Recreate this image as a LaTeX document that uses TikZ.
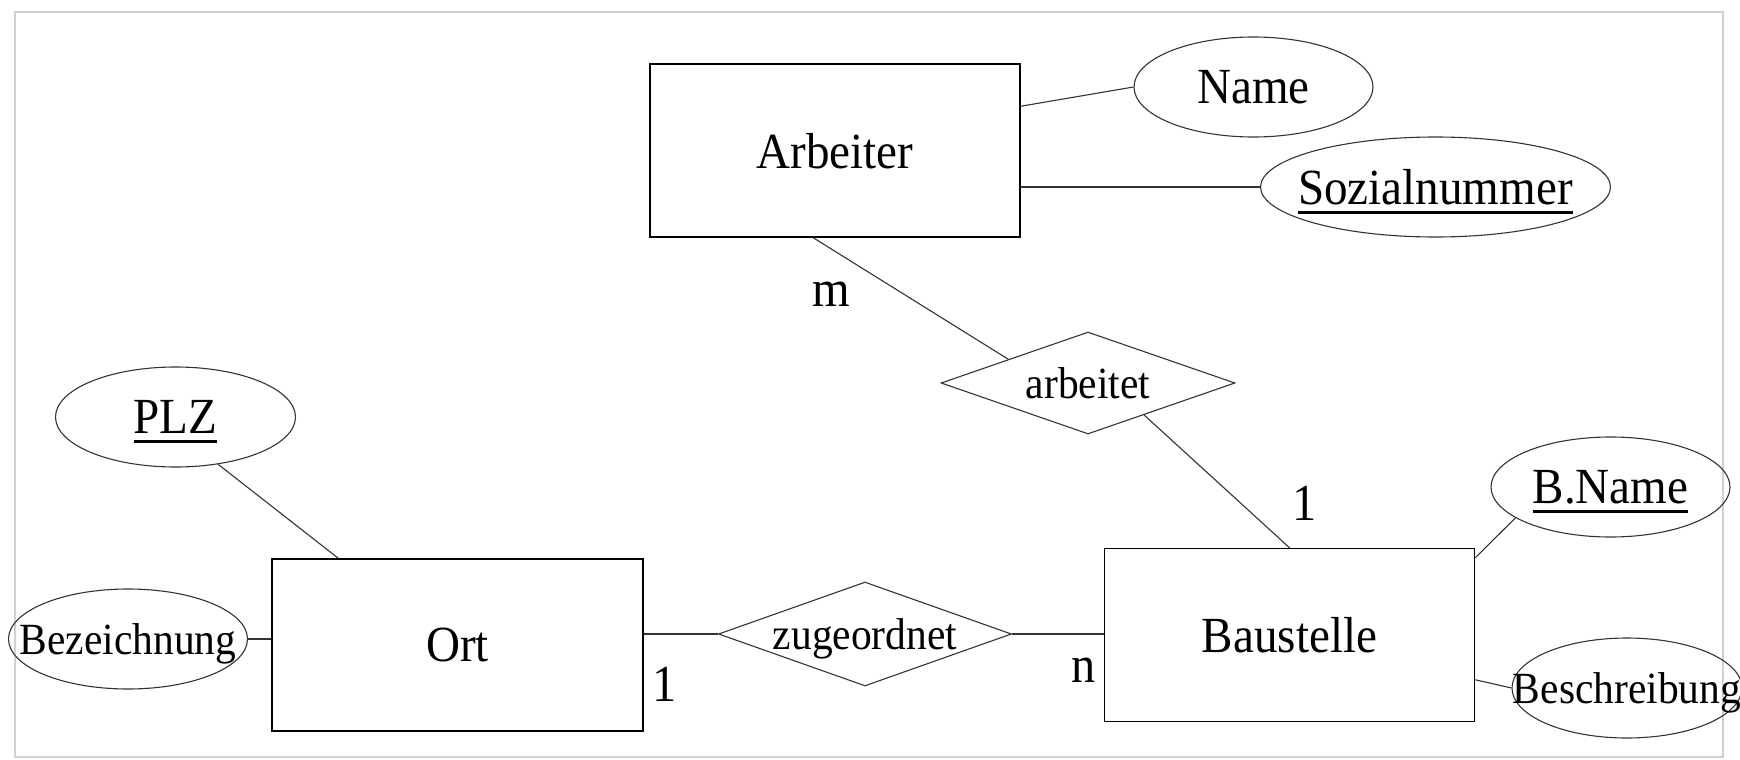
\documentclass[tikz,border=0pt]{standalone}
\usepackage{fontspec}
\setmainfont{Liberation Serif}[FakeStretch=0.93]
\usetikzlibrary{shapes}
\usetikzlibrary{calc}

% key attribute, underlined
\newcommand{\keyattr}[1]{\setbox0=\hbox{#1}\rlap{\rule[-4.5pt]{\wd0}{1.3pt}}\box0}

\begin{document}
\begin{tikzpicture}[x=0.5pt,y=-0.5pt,
	entity/.style={draw, line width=0.75pt, minimum width=185pt, minimum height=86.5pt,
		inner sep=0pt, text depth=0pt, font=\fontsize{25.3}{30}\selectfont},
	attrib/.style={draw=black!80, line width=0.55pt, ellipse, minimum width=119.5pt,
		minimum height=50pt, inner sep=0pt, text depth=0pt,
		execute at begin node={\hbox to 0pt\bgroup\hss}, execute at end node={\hss\egroup}},
	relation/.style={draw=black!80, line width=0.55pt, diamond, minimum width=147pt,
		minimum height=51.5pt, inner sep=0pt, text depth=0pt, font=\fontsize{22.3}{27}\selectfont,
		execute at begin node={\hbox to 0pt\bgroup\hss}, execute at end node={\hss\egroup}},
	card/.style={inner sep=0pt, text depth=0pt, font=\fontsize{26}{31}\selectfont},
	big/.style={font=\fontsize{25.3}{30}\selectfont},
	small/.style={font=\fontsize{22.3}{27}\selectfont},
	link/.style={draw=black!80, line width=0.55pt}]
	\useasboundingbox (0,0) rectangle (1740,760);
	
	% frame
	\draw[black!18, line width=1pt] (15,12) rectangle (1723,757);
	
	% entities
	\node[entity] (AR) at (835,150.5) {Arbeiter};
	\node[entity] (BS) at (1289.5,635) {Baustelle};
	\node[entity, minimum width=185.5pt, minimum height=86pt] (OR) at (457.5,645) {Ort};
	
	% relations
	\node[relation, minimum height=51pt] (AT) at (1088,383) {arbeitet};
	\node[relation, minimum width=146.5pt, minimum height=52pt] (ZU) at (865,634) {zugeordnet};
	
	% attributes of Arbeiter
	\node[attrib, big] (NA) at (1253.5,87) {Name};
	\node[attrib, big, minimum width=175pt] (SN) at (1435.5,187) {\keyattr{Sozialnummer}};
	
	% attributes of Baustelle
	\node[attrib, big] (BN) at (1610.5,487) {\keyattr{B.Name}};
	\node[attrib, small, minimum width=115pt] (BE) at (1627,688) {Beschreibung};
	
	% attributes of Ort
	\node[attrib, big, minimum width=120pt] (PL) at (175.5,417) {\keyattr{PLZ}};
	\node[attrib, small] (BZ) at (128,639) {Bezeichnung};
	
	% lines to the attributes
	\draw[link] ($(AR.north east)+(0,43)$) -- (NA.west);
	\draw[link] (AR.east |- SN.west) -- (SN.west);
	\draw[link] ($(BS.north east)+(0,10)$) -- (BN.198);
	\draw[link] ($(BS.north east)+(0,132)$) -- (BE.west);
	\draw[link] (PL.-48) -- ($(OR.north west)+(67,0)$);
	\draw[link] (BZ.east) -- (OR.west |- BZ.east);
	
	% lines to the relations
	\draw[link] ($(AR.south west)+(164,0)$) -- ($(AT.west)!0.46!(AT.north)$);
	\draw[link] ($(AT.south)!0.38!(AT.east)$) -- (BS.north);
	\draw[link] (OR.east |- ZU.west) -- (ZU.west);
	\draw[link] (ZU.east) -- (BS.west |- ZU.east);
	
	% cardinalities
	\node[card] (M) at (831,294) {m};
	\node[card] (B1) at (1305,503) {1};
	\node[card] (O1) at (665,684) {1};
	\node[card] (N) at (1084,670) {n};
\end{tikzpicture}
\end{document}
